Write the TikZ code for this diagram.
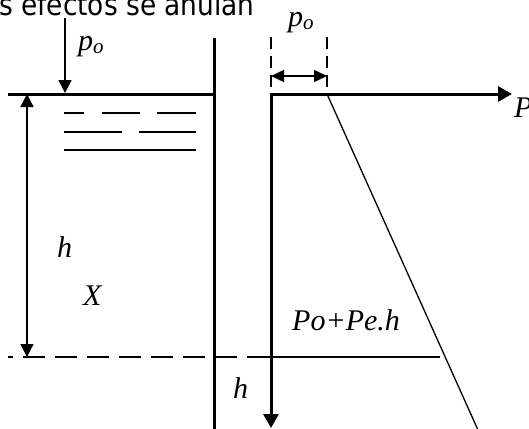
\documentclass[tikz,border=0pt]{standalone}
\usepackage{fontspec}
\setmainfont{Liberation Serif}
\newfontfamily\sansf{DejaVu Sans}
\usetikzlibrary{arrows.meta}
\newcommand{\pzero}{{\itshape p\raisebox{-3pt}{\fontsize{21}{21}\selectfont o}}}
\begin{document}
\begin{tikzpicture}[x=1pt,y=-1pt,
  thickline/.style={line width=3pt},
  thinline/.style={line width=1.3pt},
  dimdash/.style={line width=1.2pt, dash pattern=on 12pt off 7pt},
  lbl/.style={inner sep=0pt, anchor=base west, font=\fontsize{30}{30}\selectfont\itshape},
  tipS/.style={-{Triangle[length=13pt,width=13pt]}},
  tipB/.style={{Triangle[length=14pt,width=15pt]}-{Triangle[length=14pt,width=15pt]}}]
\useasboundingbox (0,0) rectangle (529,428);
\clip (0,0) rectangle (529,428);

% title (clipped at the top)
\node[inner sep=0pt, anchor=base west] (title) at (-1,15.5)
  {\scalebox{0.88}[1]{\sansf\fontsize{30}{30}\selectfont s efectos se anulan}};

% coordinates
\coordinate (s0) at (8,94);
\coordinate (s1) at (214,94);
\coordinate (w0) at (214,38);
\coordinate (w1) at (214,430);
\coordinate (ax0) at (271,94);
\coordinate (axP) at (512,94);
\coordinate (axH) at (271,428);
\coordinate (d0t) at (271,37);
\coordinate (d0b) at (271,94);
\coordinate (d1t) at (327,37);
\coordinate (d1b) at (327,94);
\coordinate (m0) at (271,76);
\coordinate (m1) at (327,76);
\coordinate (sl1) at (478,430);
\coordinate (b0) at (8,357);
\coordinate (b1) at (262,357);
\coordinate (b2) at (440,357);
\coordinate (h0) at (27,94);
\coordinate (h1) at (27,357);
\coordinate (p0) at (65,18);
\coordinate (p1) at (65,93);

% free surface and wall
\draw[thickline] (s0) -- (s1);
\draw[thickline] (w0) -- (w1);

% water hatch lines
\draw[thinline] (64,113) -- (84,113) (102,113) -- (140,113) (157,113) -- (196,113);
\draw[thinline] (64,132) -- (122,132) (139,132) -- (196,132);
\draw[thinline] (64,150) -- (196,150);

% pressure arrow on surface
\draw[thinline, tipS] (p0) -- (p1);
\node[lbl] (lp0) at (78,50) {\pzero};

% depth dimension
\draw[thinline, {Triangle[length=13pt,width=13pt]}-{Triangle[length=13pt,width=13pt]}] (h0) -- (h1);
\node[lbl] (lh) at (57,257) {h};
\node[lbl] (lX) at (83,305) {X};

% depth level line
\draw[thinline, dash pattern=on 22pt off 10pt, dash phase=17pt] (b0) -- (b1);
\draw[thinline] (b1) -- (b2);

% axes of the pressure diagram
\draw[thickline, tipB] (axH) -- (ax0) -- (axP);
\node[lbl] (lP) at (514,117) {P};
\node[lbl] (lh2) at (233,398) {h};

% p_o dimension
\draw[dimdash] (d0t) -- (d0b);
\draw[dimdash] (d1t) -- (d1b);
\draw[thinline, {Triangle[length=13pt,width=12pt]}-{Triangle[length=13pt,width=12pt]}] (m0) -- (m1);
\node[lbl] (lp1) at (288,27) {\pzero};

% pressure line
\draw[thinline] (d1b) -- (sl1);
\node[lbl] (lpp) at (292,330) {Po+Pe.h};
\end{tikzpicture}
\end{document}
